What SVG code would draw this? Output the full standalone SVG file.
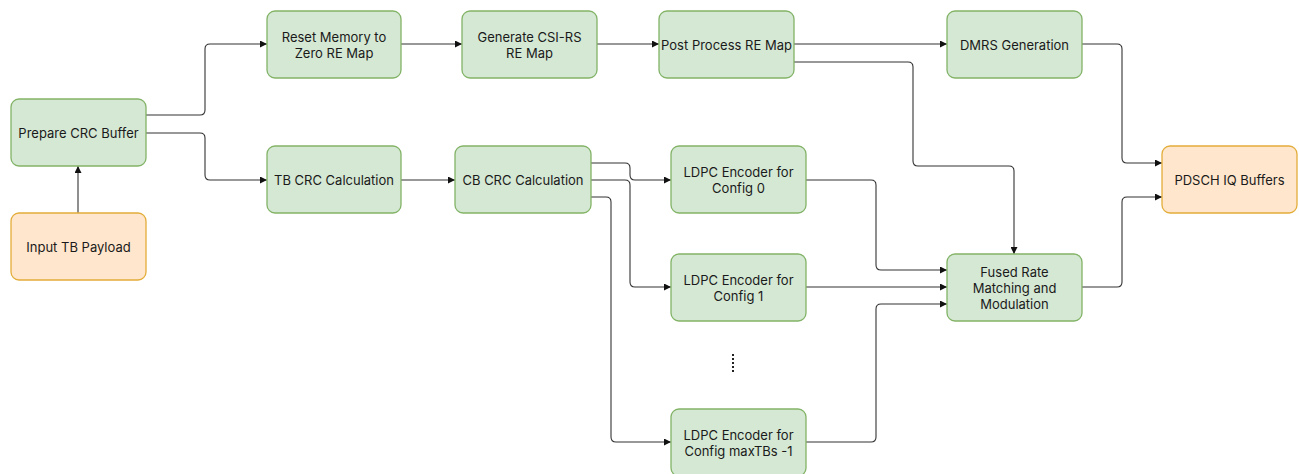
<svg xmlns="http://www.w3.org/2000/svg" width="1299" height="474" viewBox="0 0 1299 474">
<style>
.g{fill:#d5e8d4;stroke:#82b366;stroke-width:1.3}
.o{fill:#ffe6cc;stroke:#e3ad3a;stroke-width:1.3}
.t{font-family:Inter,"Noto Sans","Liberation Sans",sans-serif;font-size:13px;fill:#1a1a1a;text-anchor:middle;dominant-baseline:central}
.e{fill:none;stroke:#333;stroke-width:1.1;marker-end:url(#a)}
</style>
<defs>
<marker id="a" viewBox="0 0 10 10" refX="10" refY="5" markerWidth="7" markerHeight="7" markerUnits="userSpaceOnUse" orient="auto">
<path d="M0,0 L10,5 L0,10 z" fill="#111"/>
</marker>
</defs>
<rect width="1299" height="474" fill="#fff"/>
<g id="connectors">
<path class="e" d="M146,115 H200 Q205,115 205,110 V49 Q205,44 210,44 H267"/>
<path class="e" d="M146,133 H200 Q205,133 205,138 V175 Q205,180 210,180 H267"/>
<path class="e" d="M78,213 V166"/>
<path class="e" d="M401,44 H462"/>
<path class="e" d="M597,44 H659"/>
<path class="e" d="M794,44 H947"/>
<path class="e" d="M794,62 H908 Q913,62 913,67 V161 Q913,166 918,166 H1009 Q1014,166 1014,171 V254"/>
<path class="e" d="M401,180 H455"/>
<path class="e" d="M591,163 H625 Q630,163 630,168 V175 Q630,180 635,180 H671"/>
<path class="e" d="M591,180 H625 Q630,180 630,185 V282 Q630,287 635,287 H671"/>
<path class="e" d="M591,197 H606 Q611,197 611,202 V437 Q611,442 616,442 H671"/>
<path class="e" d="M806,180 H871 Q876,180 876,185 V265 Q876,270 881,270 H947"/>
<path class="e" d="M806,287 H947"/>
<path class="e" d="M806,442 H871 Q876,442 876,437 V309 Q876,304 881,304 H947"/>
<path class="e" d="M1082,44 H1117 Q1122,44 1122,49 V158 Q1122,163 1127,163 H1162"/>
<path class="e" d="M1082,287 H1117 Q1122,287 1122,282 V202 Q1122,197 1127,197 H1162"/>
</g>
<g id="prepare"><rect class="g" x="11" y="99" width="135" height="67" rx="8"/><text class="t" x="78.5" y="133">Prepare CRC Buffer</text></g>
<g id="input"><rect class="o" x="11" y="213" width="135" height="67" rx="8"/><text class="t" x="78.5" y="247">Input TB Payload</text></g>
<g id="reset"><rect class="g" x="267" y="11" width="134" height="67" rx="8"/><text class="t" x="334" y="37">Reset Memory to</text><text class="t" x="334" y="53">Zero RE Map</text></g>
<g id="tbcrc"><rect class="g" x="267" y="146" width="134" height="67" rx="8"/><text class="t" x="334" y="180">TB CRC Calculation</text></g>
<g id="gen"><rect class="g" x="462" y="11" width="135" height="67" rx="8"/><text class="t" x="529.5" y="37">Generate CSI-RS</text><text class="t" x="529.5" y="53">RE Map</text></g>
<g id="post"><rect class="g" x="659" y="11" width="135" height="67" rx="8"/><text class="t" x="726.5" y="45">Post Process RE Map</text></g>
<g id="cbcrc"><rect class="g" x="455" y="146" width="136" height="67" rx="8"/><text class="t" x="523" y="180">CB CRC Calculation</text></g>
<g id="ldpc0"><rect class="g" x="671" y="146" width="135" height="67" rx="8"/><text class="t" x="738.5" y="172">LDPC Encoder for</text><text class="t" x="738.5" y="188">Config 0</text></g>
<g id="ldpc1"><rect class="g" x="671" y="254" width="135" height="67" rx="8"/><text class="t" x="738.5" y="280">LDPC Encoder for</text><text class="t" x="738.5" y="296">Config 1</text></g>
<g id="dots"><line x1="733" y1="354" x2="733" y2="374" stroke="#222" stroke-width="2" stroke-dasharray="2,2"/></g>
<g id="ldpcmax"><rect class="g" x="671" y="409" width="135" height="67" rx="8"/><text class="t" x="738.5" y="435">LDPC Encoder for</text><text class="t" x="738.5" y="451">Config maxTBs -1</text></g>
<g id="dmrs"><rect class="g" x="947" y="11" width="135" height="67" rx="8"/><text class="t" x="1014.5" y="45">DMRS Generation</text></g>
<g id="fused"><rect class="g" x="947" y="254" width="135" height="67" rx="8"/><text class="t" x="1014.5" y="272">Fused Rate</text><text class="t" x="1014.5" y="288">Matching and</text><text class="t" x="1014.5" y="304">Modulation</text></g>
<g id="pdsch"><rect class="o" x="1162" y="146" width="135" height="67" rx="8"/><text class="t" x="1229.5" y="180">PDSCH IQ Buffers</text></g>
</svg>
